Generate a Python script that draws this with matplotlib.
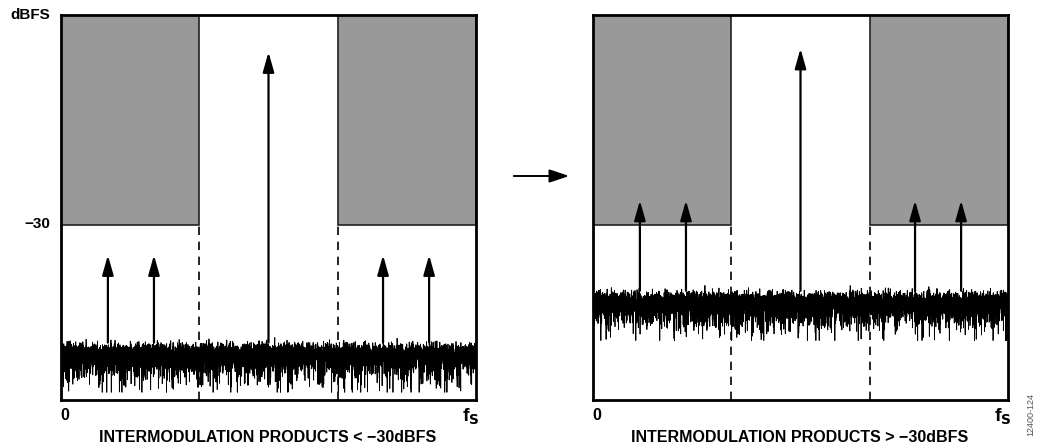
import numpy as np
import matplotlib
matplotlib.use("Agg")
from matplotlib import rcParams
rcParams['font.family'] = ['Liberation Sans', 'DejaVu Sans']
import matplotlib.pyplot as plt
from matplotlib.patches import Rectangle, FancyArrowPatch

# spectrum sketch values (x as fraction of fs, y in dBFS)
limit_dbfs = -30
band_edges = [1/3, 2/3]
tone_x = [0.5]
imd_x = [0.113, 0.224, 0.776, 0.887]
tone_top = [-5.3, -4.8]
imd_top = [-34.3, -26.5]
noise_center = [-48.3, -40.9]
panel_titles = ["INTERMODULATION PRODUCTS < \u221230dBFS",
                "INTERMODULATION PRODUCTS > \u221230dBFS"]
y_min, y_max = -55, 0
n_noise = 6000

fig = plt.figure(figsize=(10.4, 4.46), dpi=100)
W, H = 1040, 446
rng = np.random.default_rng(7)

head = '-|>,head_length=0.6,head_width=0.17'


def arrow(ax, x, y0, y1):
    ax.annotate('', xy=(x, y1), xytext=(x, y0),
                arrowprops=dict(arrowstyle=head, mutation_scale=20, lw=1.6,
                                color='black', shrinkA=0, shrinkB=0))


for i, left in enumerate([61, 593]):
    ax = fig.add_axes([left / W, (H - 400) / H, 415 / W, 385 / H])
    ax.set_xlim(0, 1)
    ax.set_ylim(y_min, y_max)
    ax.set_xticks([])
    ax.set_yticks([])
    for s in ax.spines.values():
        s.set_linewidth(2)

    # rejected bands shaded above the limit
    ax.add_patch(Rectangle((0, limit_dbfs), band_edges[0], y_max - limit_dbfs,
                           facecolor='#999999', edgecolor='#222222', lw=1.2, zorder=1))
    ax.add_patch(Rectangle((band_edges[1], limit_dbfs), 1 - band_edges[1], y_max - limit_dbfs,
                           facecolor='#999999', edgecolor='#222222', lw=1.2, zorder=1))
    for bx in band_edges:
        ax.plot([bx, bx], [y_min, limit_dbfs], color='black', lw=1.2,
                dashes=(5, 4), zorder=1)

    # noise floor texture
    x = np.linspace(0, 1, n_noise)
    e = rng.exponential(1.0, n_noise)
    nz = noise_center[i] + 0.23 * 10 * np.log10(e)
    nz = np.clip(nz, noise_center[i] - 5.6, None)
    ax.plot(x, nz, color='black', lw=0.6, zorder=2)

    base = noise_center[i] + 1.5
    for tx in tone_x:
        arrow(ax, tx, base, tone_top[i])
    for mx in imd_x:
        arrow(ax, mx, base, imd_top[i])

    fig.text((left + 207) / W, 9 / H, panel_titles[i], ha='center', va='center',
             fontsize=11.5, fontweight='bold')
    fig.text((left + 4) / W, (H - 416) / H, "0", ha='center', va='center',
             fontsize=11.5, fontweight='bold')
    fig.text((left + 410) / W, (H - 417) / H, r"f$_\mathbf{S}$", ha='center',
             va='center', fontsize=14, fontweight='bold')

fig.text(50 / W, (H - 15) / H, "dBFS", ha='right', va='center',
         fontsize=11, fontweight='bold')
fig.text(50 / W, (H - 224) / H, "\u221230", ha='right', va='center',
         fontsize=11, fontweight='bold')

# transition arrow between panels
fig.add_artist(FancyArrowPatch(
    (511 / W, (H - 176) / H), (572 / W, (H - 176) / H),
    transform=fig.transFigure, arrowstyle='-|>,head_length=0.6,head_width=0.2',
    mutation_scale=20, lw=1.4, color='black'))

fig.text(1031 / W, (H - 415) / H, "12400-124", rotation=90, ha='center',
         va='center', fontsize=6.5, color='#555555')

fig.savefig("out.png", dpi=100)
